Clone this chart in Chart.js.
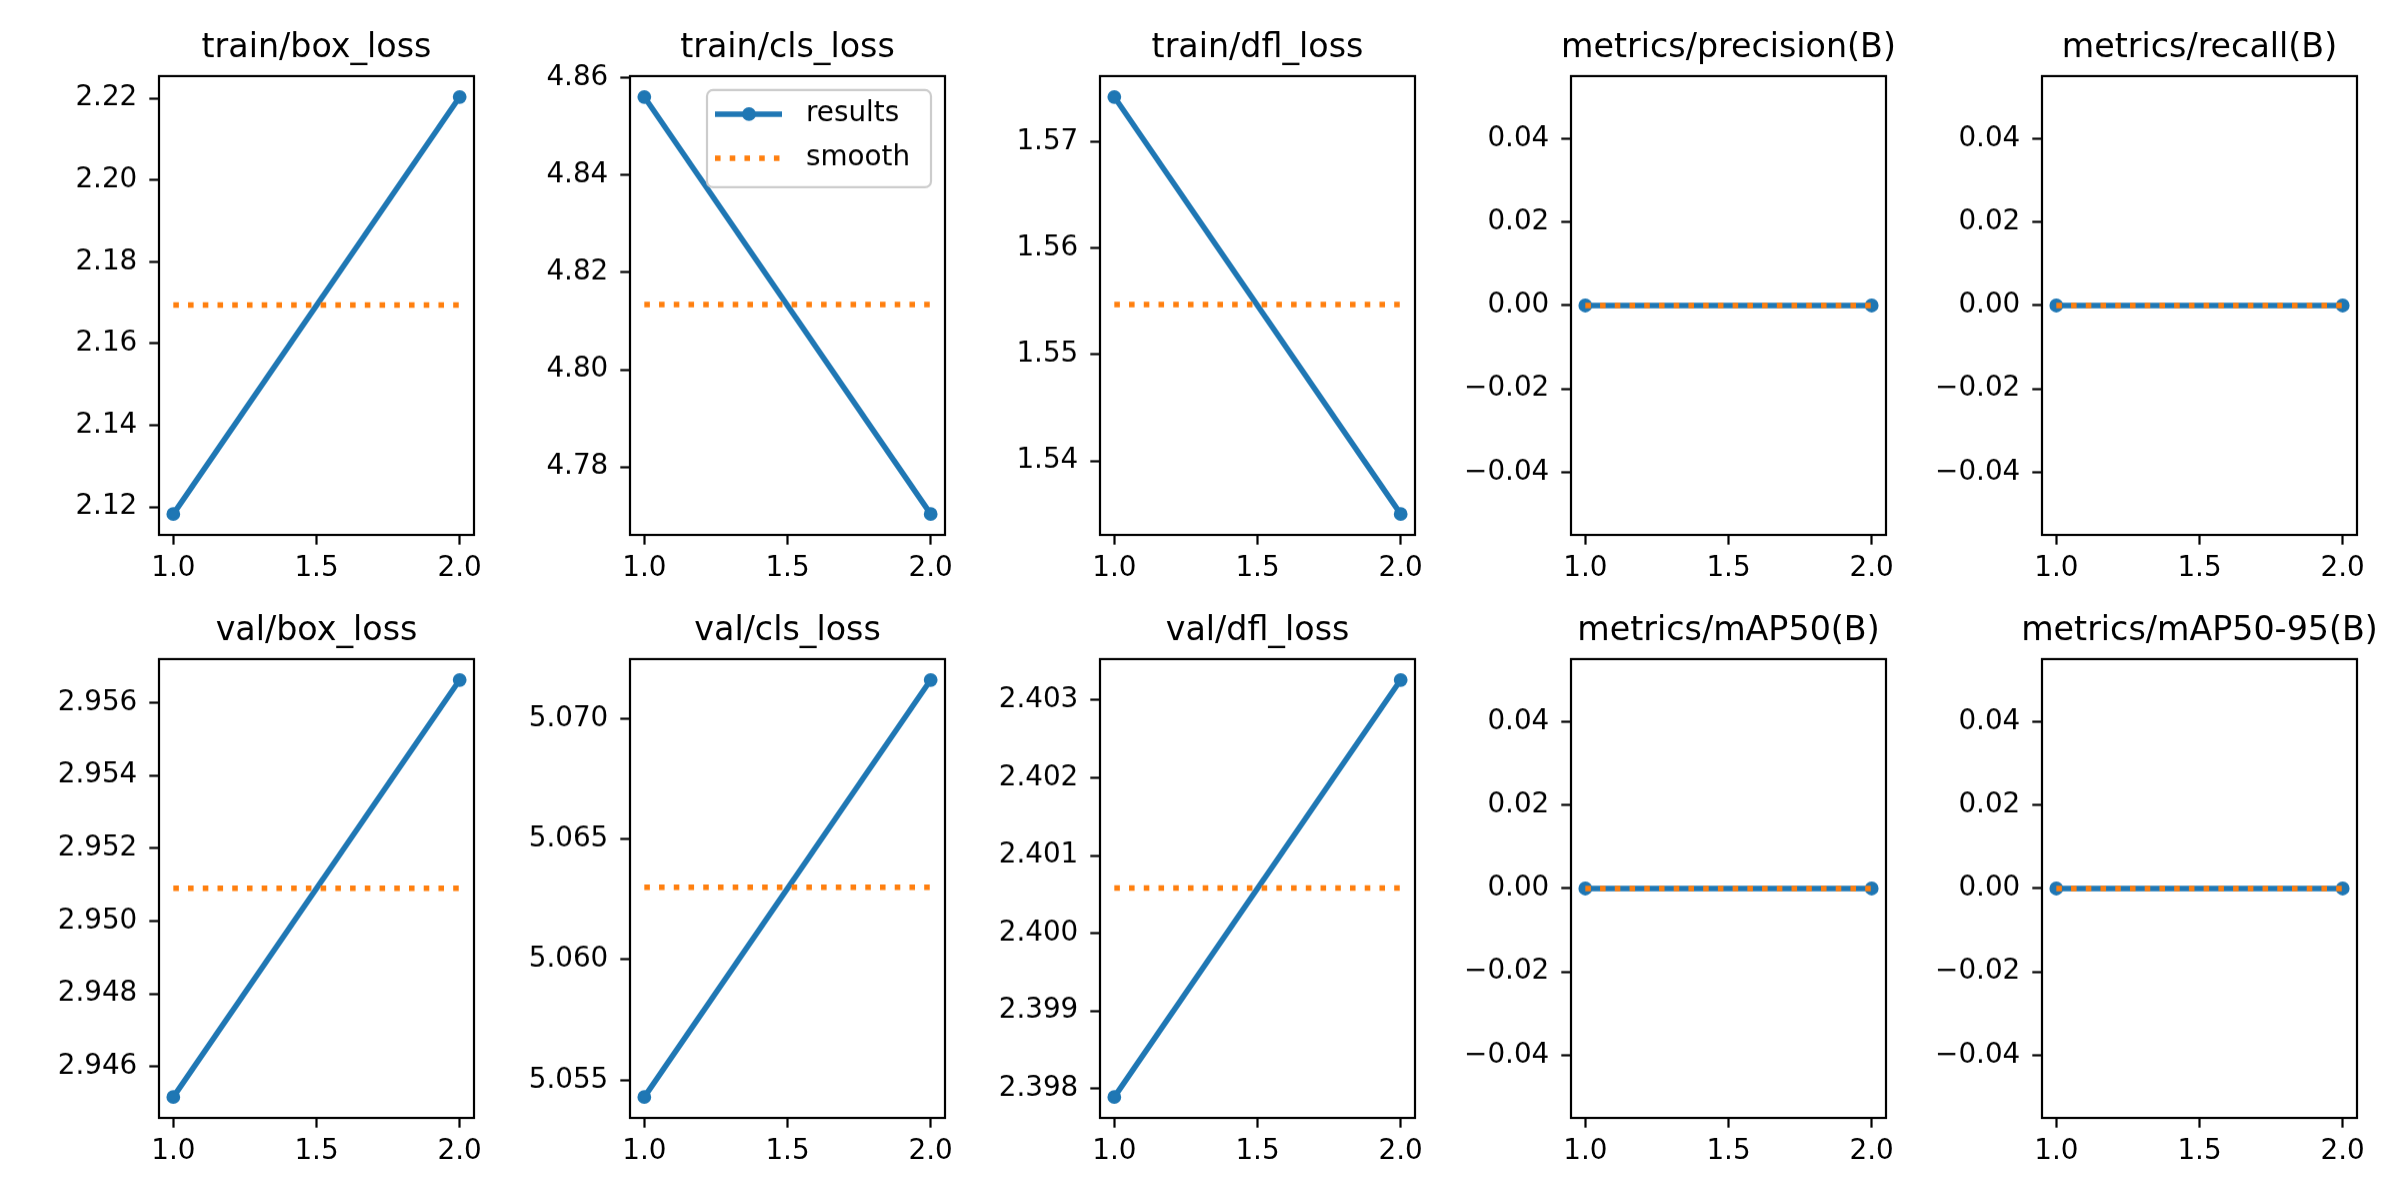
<!DOCTYPE html>
<html>
<head>
<meta charset="utf-8">
<script src="https://cdn.jsdelivr.net/npm/chart.js@4.4.1/dist/chart.umd.min.js"></script>
<style>
  html, body { margin: 0; padding: 0; background: #fff; overflow: hidden; }
  body { position: relative; width: 2400px; height: 1200px; }
  canvas { position: absolute; }
</style>
</head>
<body>
<script>
// epochs on the x axis
const epochs = [1, 2];

const panelTitles = [
    'train/box_loss', 'train/cls_loss', 'train/dfl_loss', 'metrics/precision(B)', 'metrics/recall(B)',
    'val/box_loss', 'val/cls_loss', 'val/dfl_loss', 'metrics/mAP50(B)', 'metrics/mAP50-95(B)'
];

// values
const resultsValues = [
    [2.1183, 2.2203],
    [4.8561, 4.7703],
    [1.5742, 1.5350],
    [0, 0],
    [0, 0],
    [2.94516, 2.95663],
    [5.0543, 5.0716],
    [2.39789, 2.40326],
    [0, 0],
    [0, 0]
];

const smoothValues = [
    [2.1694, 2.1694],
    [4.8134, 4.8134],
    [1.5547, 1.5547],
    [0, 0],
    [0, 0],
    [2.9509, 2.9509],
    [5.0630, 5.0630],
    [2.40058, 2.40058],
    [0, 0],
    [0, 0]
];

const metricTicks = ['\u22120.04', '\u22120.02', '0.00', '0.02', '0.04'];
const yTickLabels = [
    ['2.12', '2.14', '2.16', '2.18', '2.20', '2.22'],
    ['4.78', '4.80', '4.82', '4.84', '4.86'],
    ['1.54', '1.55', '1.56', '1.57'],
    metricTicks,
    metricTicks,
    ['2.946', '2.948', '2.950', '2.952', '2.954', '2.956'],
    ['5.055', '5.060', '5.065', '5.070'],
    ['2.398', '2.399', '2.400', '2.401', '2.402', '2.403'],
    metricTicks,
    metricTicks
];
const xTickLabels = ['1.0', '1.5', '2.0'];

// layout of the 2x5 grid (axes boxes in page pixels)
const colLeft = [159, 630, 1100, 1571, 2042];
const rowTop = [76, 659];
const AX_W = 315, AX_H = 459;
const Y_AXIS_W = 150, X_AXIS_H = 60, SIDE = 150;
const TITLE_SIZE = 33.3, TITLE_PAD_TOP = 10, TITLE_PAD_BOTTOM = 8;
const titleBlock = TITLE_PAD_TOP + TITLE_SIZE * 1.2 + TITLE_PAD_BOTTOM;

const BLUE = '#1f77b4';
const ORANGE = '#ff7f0e';
const TICK_FONT = 27.8;

Chart.defaults.font.family = "'DejaVu Sans', sans-serif";
Chart.defaults.color = '#000';

const toNumber = s => parseFloat(s.replace('\u2212', '-'));

// matplotlib-like autoscale: 5% margin, +-0.05 for flat data
function yRange(a, b) {
    const all = a.concat(b);
    let lo = Math.min(...all), hi = Math.max(...all);
    if (hi === lo) { lo -= 0.05; hi += 0.05; }
    const m = (hi - lo) * 0.05;
    return [lo - m, hi + m];
}

// black box round each axes
const axesFrame = {
    id: 'axesFrame',
    afterDatasetsDraw(chart) {
        const a = chart.chartArea;
        const ctx = chart.ctx;
        ctx.save();
        ctx.strokeStyle = '#000';
        ctx.lineWidth = 2.2;
        ctx.strokeRect(a.left, a.top, a.right - a.left, a.bottom - a.top);
        ctx.restore();
    }
};

// legend box in the upper right of the axes (only on one panel)
const cornerLegend = {
    id: 'cornerLegend',
    afterDatasetsDraw(chart, args, opts) {
        if (!opts.show) return;
        const ctx = chart.ctx;
        const a = chart.chartArea;
        const w = 224, h = 97;
        const x = a.right - 14 - w, y = a.top + 14;
        ctx.save();
        ctx.beginPath();
        ctx.roundRect(x, y, w, h, 6);
        ctx.fillStyle = 'rgba(255,255,255,0.8)';
        ctx.fill();
        ctx.strokeStyle = '#cccccc';
        ctx.lineWidth = 2.2;
        ctx.stroke();

        chart.data.datasets.forEach((ds, i) => {
            const cy = y + 24 + i * 44;
            ctx.beginPath();
            ctx.setLineDash(ds.borderDash || []);
            ctx.strokeStyle = ds.borderColor;
            ctx.lineWidth = ds.borderWidth;
            ctx.moveTo(x + 8, cy);
            ctx.lineTo(x + 75, cy);
            ctx.stroke();
            ctx.setLineDash([]);
            if (ds.pointRadius > 0) {
                ctx.beginPath();
                ctx.arc(x + 42, cy, ds.pointRadius + ds.pointBorderWidth / 2, 0, Math.PI * 2);
                ctx.fillStyle = ds.borderColor;
                ctx.fill();
            }
            ctx.fillStyle = '#000';
            ctx.font = TICK_FONT + "px 'DejaVu Sans'";
            ctx.textBaseline = 'middle';
            ctx.textAlign = 'left';
            ctx.fillText(ds.label, x + 99, cy);
        });
        ctx.restore();
    }
};

Chart.register(axesFrame, cornerLegend);

const tickGrid = {
    drawOnChartArea: false,
    drawTicks: true,
    tickLength: 9.7,
    tickWidth: 2.2,
    tickColor: '#000'
};

panelTitles.forEach((title, i) => {
    const col = i % 5, row = Math.floor(i / 5);
    const canvas = document.createElement('canvas');
    const cw = Y_AXIS_W + AX_W + SIDE;
    const chh = titleBlock + AX_H + X_AXIS_H;
    canvas.width = cw;
    canvas.height = chh;
    canvas.style.left = (colLeft[col] - Y_AXIS_W) + 'px';
    canvas.style.top = (rowTop[row] - titleBlock) + 'px';
    canvas.style.width = cw + 'px';
    canvas.style.height = chh + 'px';
    document.body.appendChild(canvas);

    const [yMin, yMax] = yRange(resultsValues[i], smoothValues[i]);
    const yLabels = yTickLabels[i];

    new Chart(canvas.getContext('2d'), {
        type: 'line',
        data: {
            labels: epochs,
            datasets: [
                {
                    label: 'results',
                    data: epochs.map((e, k) => ({ x: e, y: resultsValues[i][k] })),
                    borderColor: BLUE,
                    backgroundColor: BLUE,
                    borderWidth: 5.56,
                    pointRadius: 5.5,
                    pointBorderWidth: 2.8,
                    pointBackgroundColor: BLUE,
                    pointBorderColor: BLUE,
                    tension: 0,
                    order: 1
                },
                {
                    label: 'smooth',
                    data: epochs.map((e, k) => ({ x: e, y: smoothValues[i][k] })),
                    borderColor: ORANGE,
                    backgroundColor: ORANGE,
                    borderWidth: 5.56,
                    borderDash: [5.56, 9.17],
                    pointRadius: 0,
                    tension: 0,
                    order: 0
                }
            ]
        },
        options: {
            responsive: false,
            animation: false,
            events: [],
            layout: { padding: 0 },
            plugins: {
                legend: { display: false },
                tooltip: { enabled: false },
                title: {
                    display: true,
                    text: title,
                    color: '#000',
                    font: { size: TITLE_SIZE, weight: 'normal', lineHeight: 1.2 },
                    padding: { top: TITLE_PAD_TOP, bottom: TITLE_PAD_BOTTOM }
                },
                cornerLegend: { show: i === 1 }
            },
            scales: {
                x: {
                    type: 'linear',
                    min: 0.95,
                    max: 2.05,
                    afterFit(scale) { scale.height = X_AXIS_H; },
                    afterBuildTicks(scale) { scale.ticks = xTickLabels.map(s => ({ value: toNumber(s) })); },
                    ticks: {
                        autoSkip: false,
                        maxRotation: 0,
                        padding: 7,
                        font: { size: TICK_FONT },
                        callback: (v, idx) => xTickLabels[idx]
                    },
                    grid: tickGrid,
                    border: { display: false }
                },
                y: {
                    type: 'linear',
                    min: yMin,
                    max: yMax,
                    afterFit(scale) { scale.width = Y_AXIS_W; },
                    afterBuildTicks(scale) { scale.ticks = yLabels.map(s => ({ value: toNumber(s) })); },
                    ticks: {
                        autoSkip: false,
                        padding: 12,
                        font: { size: TICK_FONT },
                        callback: (v, idx) => yLabels[idx]
                    },
                    grid: tickGrid,
                    border: { display: false }
                },
                // empty right-hand strip so the title centres over the axes
                side: {
                    type: 'linear',
                    position: 'right',
                    display: true,
                    afterFit(scale) { scale.width = SIDE; },
                    ticks: { display: false },
                    grid: { display: false },
                    border: { display: false }
                }
            }
        }
    });
});
</script>
</body>
</html>
